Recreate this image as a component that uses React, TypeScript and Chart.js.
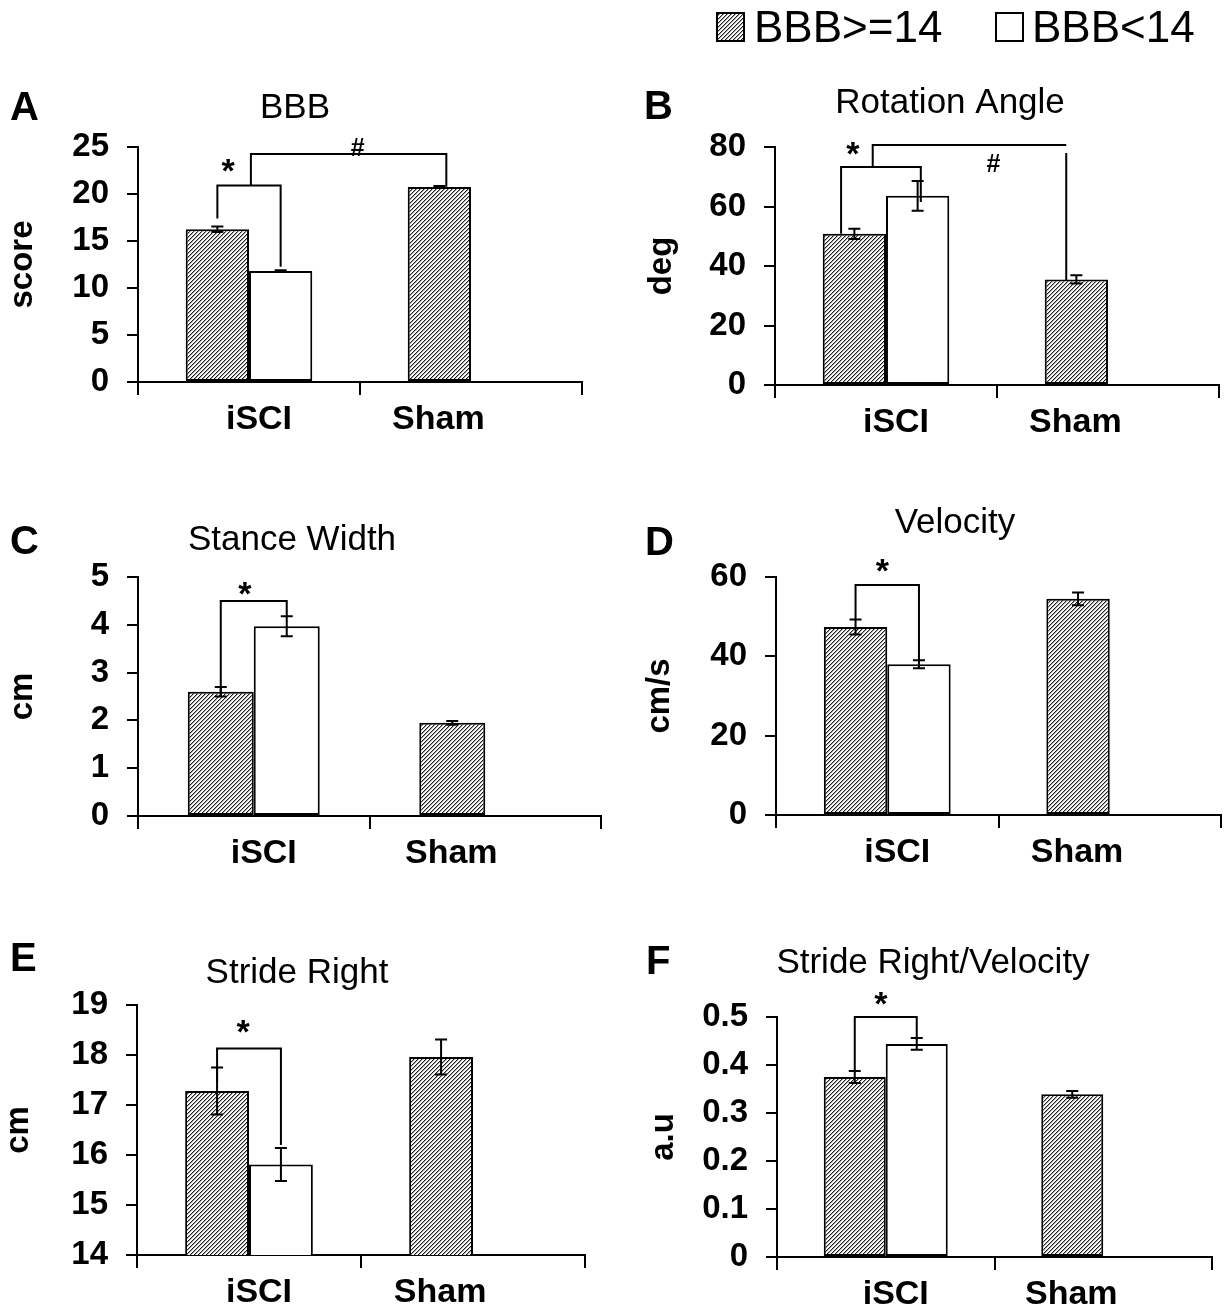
import React, { useEffect, useRef } from "react";
import { Chart, registerables } from "chart.js";

Chart.register(...registerables);

// ---------------- data ----------------
const categories = ["iSCI", "Sham"];
const seriesNames = ["BBB>=14", "BBB<14"];

// A: BBB
const bbbHigh = [16.25, 20.75];
const bbbHighSem = [0.3, 0.1];
const bbbLow = [11.8, null];
const bbbLowSem = [0.1, null];
const bbbTickValues = [0, 5, 10, 15, 20, 25];
const bbbTickLabels = ["0", "5", "10", "15", "20", "25"];
const bbbStarBracket = [20.9, 17.4, 12.25]; // [bracket y, left leg end, right leg end]
const bbbHashBracket = [24.26, 20.9, 20.77];

// B: Rotation Angle
const rotHigh = [50.8, 35.5];
const rotHighSem = [1.7, 1.4];
const rotLow = [63.6, null];
const rotLowSem = [5.0, null];
const rotTickValues = [0, 20, 40, 60, 80];
const rotTickLabels = ["0", "20", "40", "60", "80"];
const rotStarBracket = [73.3, 50.8, 61.5];
const rotHashBracket = [80.7, 73.3, 35.3, 78]; // last: right leg start

// C: Stance Width
const stanceHigh = [2.6, 1.95];
const stanceHighSem = [0.1, 0.04];
const stanceLow = [3.97, null];
const stanceLowSem = [0.21, null];
const stanceTickValues = [0, 1, 2, 3, 4, 5];
const stanceTickLabels = ["0", "1", "2", "3", "4", "5"];
const stanceStarBracket = [4.5, 2.49, 4.17];

// D: Velocity
const velHigh = [47.4, 54.5];
const velHighSem = [1.9, 1.6];
const velLow = [38.0, null];
const velLowSem = [1.0, null];
const velTickValues = [0, 20, 40, 60];
const velTickLabels = ["0", "20", "40", "60"];
const velStarBracket = [58, 49.2, 38.3];

// E: Stride Right
const strideHigh = [17.28, 17.96];
const strideHighSem = [0.47, 0.35];
const strideLow = [15.81, null];
const strideLowSem = [0.33, null];
const strideTickValues = [14, 15, 16, 17, 18, 19];
const strideTickLabels = ["14", "15", "16", "17", "18", "19"];
const strideStarBracket = [18.13, 17.47, 16.2];

// F: Stride Right/Velocity
const ratioHigh = [0.375, 0.339];
const ratioHighSem = [0.0125, 0.007];
const ratioLow = [0.444, null];
const ratioLowSem = [0.012, null];
const ratioTickValues = [0, 0.1, 0.2, 0.3, 0.4, 0.5];
const ratioTickLabels = ["0", "0.1", "0.2", "0.3", "0.4", "0.5"];
const ratioStarBracket = [0.5, 0.385, 0.453];

// ---------------- styles / layout ----------------
const FONT = '"Liberation Sans", Arial, Helvetica, sans-serif';
const STAR_PAIR = [[0, 0], [1, 0]];
const HASH_PAIR = [[0, 0], [0, 1]];

type Panel = any;

const panels: Panel[] = [
  {
    letter: "A", title: "BBB", yTitle: "score",
    high: bbbHigh, highSem: bbbHighSem, low: bbbLow, lowSem: bbbLowSem,
    tickValues: bbbTickValues, tickLabels: bbbTickLabels,
    brackets: [
      { vals: bbbStarBracket, pair: STAR_PAIR, text: "*", fa: 0, fb: 0, dx: -21, dy: 18 },
      { vals: bbbHashBracket, pair: HASH_PAIR, text: "#", fa: 0.53, fb: 0.11, dx: 9, dy: 7 },
    ],
    box: { x: 0, y: 0, w: 612, h: 450 }, area: { l: 138, r: 582, t: 147, b: 382 },
    letterPos: [10, 106], titlePos: [295, 105], yTitleX: 26,
  },
  {
    letter: "B", title: "Rotation Angle", yTitle: "deg",
    high: rotHigh, highSem: rotHighSem, low: rotLow, lowSem: rotLowSem,
    tickValues: rotTickValues, tickLabels: rotTickLabels,
    brackets: [
      { vals: rotStarBracket, pair: STAR_PAIR, text: "*", fa: -0.21, fb: 0.05, dx: -28, dy: 17 },
      { vals: rotHashBracket, pair: HASH_PAIR, text: "#", fa: 0.29, fb: -0.16, dx: 24, dy: -18 },
    ],
    box: { x: 612, y: 0, w: 613, h: 450 }, area: { l: 775, r: 1219, t: 147, b: 385 },
    letterPos: [644, 105], titlePos: [950, 100], yTitleX: 665, legend: true,
  },
  {
    letter: "C", title: "Stance Width", yTitle: "cm",
    high: stanceHigh, highSem: stanceHighSem, low: stanceLow, lowSem: stanceLowSem,
    tickValues: stanceTickValues, tickLabels: stanceTickLabels,
    brackets: [
      { vals: stanceStarBracket, pair: STAR_PAIR, text: "*", fa: 0, fb: 0, dx: -9, dy: 11 },
    ],
    box: { x: 0, y: 450, w: 612, h: 430 }, area: { l: 138, r: 601, t: 577, b: 816 },
    letterPos: [10, 540], titlePos: [292, 537], yTitleX: 26,
  },
  {
    letter: "D", title: "Velocity", yTitle: "cm/s",
    high: velHigh, highSem: velHighSem, low: velLow, lowSem: velLowSem,
    tickValues: velTickValues, tickLabels: velTickLabels,
    brackets: [
      { vals: velStarBracket, pair: STAR_PAIR, text: "*", fa: 0, fb: 0, dx: -5, dy: 18 },
    ],
    box: { x: 612, y: 450, w: 613, h: 430 }, area: { l: 776, r: 1221, t: 577, b: 815 },
    letterPos: [645, 541], titlePos: [955, 520], yTitleX: 663,
  },
  {
    letter: "E", title: "Stride Right", yTitle: "cm",
    high: strideHigh, highSem: strideHighSem, low: strideLow, lowSem: strideLowSem,
    tickValues: strideTickValues, tickLabels: strideTickLabels,
    brackets: [
      { vals: strideStarBracket, pair: STAR_PAIR, text: "*", fa: 0, fb: 0, dx: -6, dy: 20 },
    ],
    box: { x: 0, y: 880, w: 612, h: 430 }, area: { l: 137, r: 585, t: 1005, b: 1255 },
    letterPos: [10, 957], titlePos: [297, 970], yTitleX: 22,
  },
  {
    letter: "F", title: "Stride Right/Velocity", yTitle: "a.u",
    high: ratioHigh, highSem: ratioHighSem, low: ratioLow, lowSem: ratioLowSem,
    tickValues: ratioTickValues, tickLabels: ratioTickLabels,
    brackets: [
      { vals: ratioStarBracket, pair: STAR_PAIR, text: "*", fa: 0, fb: 0, dx: -5, dy: 17 },
    ],
    box: { x: 612, y: 880, w: 613, h: 430 }, area: { l: 777, r: 1212, t: 1017, b: 1257 },
    letterPos: [646, 960], titlePos: [933, 960], yTitleX: 667,
  },
];

const X_AXIS_H = 20;
const X_LABEL_DX = [10, -1];
const LEGEND = [
  { sq: [717, 13, 27, 28], tx: 754, ty: 42 },
  { sq: [996, 13, 27, 28], tx: 1032, ty: 42 },
];

function makeHatch(ctx: CanvasRenderingContext2D) {
  const tile = document.createElement("canvas");
  tile.width = 4;
  tile.height = 4;
  const t = tile.getContext("2d")!;
  const img = t.createImageData(4, 4);
  const shades = [30, 165, 250, 255];
  for (let y = 0; y < 4; y++) {
    for (let x = 0; x < 4; x++) {
      const s = shades[(x + y) % 4];
      const o = (y * 4 + x) * 4;
      img.data[o] = s;
      img.data[o + 1] = s;
      img.data[o + 2] = s;
      img.data[o + 3] = 255;
    }
  }
  t.putImageData(img, 0, 0);
  return ctx.createPattern(tile, "repeat")!;
}

function decorPlugin(p: Panel, pattern: CanvasPattern) {
  const ox = p.box.x;
  const oy = p.box.y;
  return {
    id: "decor" + p.letter,
    afterDatasetsDraw(chart: any) {
      const ctx: CanvasRenderingContext2D = chart.ctx;
      const ys = chart.scales.y;
      ctx.save();
      ctx.strokeStyle = "#000";
      ctx.lineWidth = 2;
      [p.highSem, p.lowSem].forEach((sem: any[], ds: number) => {
        const vals = ds === 0 ? p.high : p.low;
        const meta = chart.getDatasetMeta(ds);
        vals.forEach((v: number | null, i: number) => {
          if (v == null || sem[i] == null) return;
          const x = meta.data[i].x;
          const y1 = ys.getPixelForValue(v + sem[i]);
          const y2 = ys.getPixelForValue(v - sem[i]);
          ctx.beginPath();
          ctx.moveTo(x, y1);
          ctx.lineTo(x, y2);
          ctx.moveTo(x - 6, y1);
          ctx.lineTo(x + 6, y1);
          ctx.moveTo(x - 6, y2);
          ctx.lineTo(x + 6, y2);
          ctx.stroke();
        });
      });
      // significance brackets
      p.brackets.forEach((b: any) => {
        const [yv, aEnd, bEnd, bStart] = b.vals;
        const ea = chart.getDatasetMeta(b.pair[0][0]).data[b.pair[0][1]];
        const eb = chart.getDatasetMeta(b.pair[1][0]).data[b.pair[1][1]];
        const xa = ea.x + b.fa * ea.width;
        const xb = eb.x + b.fb * eb.width;
        const y = ys.getPixelForValue(yv);
        ctx.beginPath();
        ctx.moveTo(xa, ys.getPixelForValue(aEnd));
        ctx.lineTo(xa, y);
        ctx.lineTo(xb, y);
        if (bStart == null) {
          ctx.lineTo(xb, ys.getPixelForValue(bEnd));
        } else {
          ctx.moveTo(xb, ys.getPixelForValue(bStart));
          ctx.lineTo(xb, ys.getPixelForValue(bEnd));
        }
        ctx.stroke();
        const isStar = b.text === "*";
        const size = isStar ? 34 : 25;
        ctx.font = `bold ${size}px ${FONT}`;
        ctx.fillStyle = "#000";
        ctx.textAlign = "center";
        ctx.textBaseline = "alphabetic";
        const cy = y - b.dy;
        ctx.fillText(b.text, (xa + xb) / 2 + b.dx, cy + (isStar ? 0.43 : 0.35) * size);
      });
      ctx.restore();
    },
    afterDraw(chart: any) {
      const ctx: CanvasRenderingContext2D = chart.ctx;
      const area = chart.chartArea;
      ctx.save();
      ctx.fillStyle = "#000";
      ctx.textBaseline = "alphabetic";
      // panel letter
      ctx.font = `bold 40px ${FONT}`;
      ctx.textAlign = "left";
      ctx.fillText(p.letter, p.letterPos[0] - ox, p.letterPos[1] - oy + 0.358 * 40);
      // title
      ctx.font = `35px ${FONT}`;
      ctx.textAlign = "center";
      ctx.fillText(p.title, p.titlePos[0] - ox, p.titlePos[1] - oy + 0.358 * 35);
      // category labels
      ctx.font = `bold 34px ${FONT}`;
      categories.forEach((c, i) => {
        const xs: number[] = [];
        [p.high, p.low].forEach((vals: any[], ds: number) => {
          if (vals[i] != null) xs.push(chart.getDatasetMeta(ds).data[i].x);
        });
        const x = xs.reduce((a, b) => a + b, 0) / xs.length + X_LABEL_DX[i];
        ctx.fillText(c, x, area.bottom + 35 + 0.358 * 34);
      });
      // legend
      if (p.legend) {
        ctx.font = `44px ${FONT}`;
        ctx.textAlign = "left";
        LEGEND.forEach((L, k) => {
          const [x, y, w, h] = L.sq;
          ctx.fillStyle = k === 0 ? (pattern as any) : "#fff";
          ctx.fillRect(x - ox, y - oy, w, h);
          ctx.strokeStyle = "#000";
          ctx.lineWidth = 2;
          ctx.strokeRect(x - ox, y - oy, w, h);
          ctx.fillStyle = "#000";
          ctx.fillText(seriesNames[k], L.tx - ox, L.ty - oy);
        });
      }
      ctx.restore();
    },
  };
}

function buildChart(canvas: HTMLCanvasElement, p: Panel) {
  const ctx = canvas.getContext("2d")!;
  const pattern = makeHatch(ctx);
  const padTop = p.area.t - p.box.y;
  const padRight = p.box.x + p.box.w - p.area.r;
  const padBottom = p.box.y + p.box.h - p.area.b - X_AXIS_H;
  const yWidth = p.area.l - p.box.x;
  const titlePad = p.yTitleX - 3 - p.box.x - 16.5;
  const barCommon = {
    borderColor: "#000",
    borderWidth: 2,
    borderSkipped: false,
    categoryPercentage: 0.57,
    barPercentage: 1,
  };
  return new Chart(canvas, {
    type: "bar",
    data: {
      labels: categories,
      datasets: [
        { label: seriesNames[0], data: p.high, backgroundColor: pattern, ...barCommon },
        { label: seriesNames[1], data: p.low, backgroundColor: "#ffffff", ...barCommon },
      ],
    },
    options: {
      animation: false,
      responsive: false,
      maintainAspectRatio: false,
      devicePixelRatio: 1,
      events: [],
      layout: { padding: { left: 0, top: padTop, right: padRight, bottom: padBottom } },
      plugins: {
        legend: { display: false },
        tooltip: { enabled: false },
        title: { display: false },
      },
      scales: {
        x: {
          type: "category",
          offset: true,
          grid: {
            offset: true,
            drawOnChartArea: false,
            drawTicks: true,
            tickLength: 13,
            color: "#000",
            lineWidth: 2,
          },
          border: { display: true, color: "#000", width: 2 },
          ticks: { display: false },
          afterFit: (s: any) => {
            s.height = X_AXIS_H;
          },
        },
        y: {
          type: "linear",
          min: p.tickValues[0],
          max: p.tickValues[p.tickValues.length - 1],
          grid: {
            drawOnChartArea: false,
            drawTicks: true,
            tickLength: 11,
            color: "#000",
            lineWidth: 2,
          },
          border: { display: true, color: "#000", width: 2 },
          ticks: {
            color: "#000",
            padding: 18,
            font: { family: FONT, size: 33, weight: "bold" },
            callback: (_v: any, i: number) => p.tickLabels[i],
          },
          afterBuildTicks: (s: any) => {
            s.ticks = p.tickValues.map((v: number) => ({ value: v }));
          },
          afterFit: (s: any) => {
            s.width = yWidth;
          },
          title: {
            display: true,
            text: p.yTitle,
            color: "#000",
            font: { family: FONT, size: 33, weight: "bold", lineHeight: 1 },
            padding: { top: titlePad, bottom: 0 },
          },
        },
      },
    } as any,
    plugins: [decorPlugin(p, pattern)],
  });
}

export default function App() {
  const refs = useRef<(HTMLCanvasElement | null)[]>([]);
  useEffect(() => {
    const charts = panels.map((p, k) => buildChart(refs.current[k]!, p));
    return () => charts.forEach((c) => c.destroy());
  }, []);
  return (
    <div
      style={{
        position: "absolute",
        left: 0,
        top: 0,
        width: 1225,
        height: 1310,
        background: "#fff",
        overflow: "hidden",
      }}
    >
      {panels.map((p, k) => (
        <canvas
          key={p.letter}
          ref={(el) => {
            refs.current[k] = el;
          }}
          width={p.box.w}
          height={p.box.h}
          style={{
            position: "absolute",
            left: p.box.x,
            top: p.box.y,
            width: p.box.w,
            height: p.box.h,
          }}
        />
      ))}
    </div>
  );
}
